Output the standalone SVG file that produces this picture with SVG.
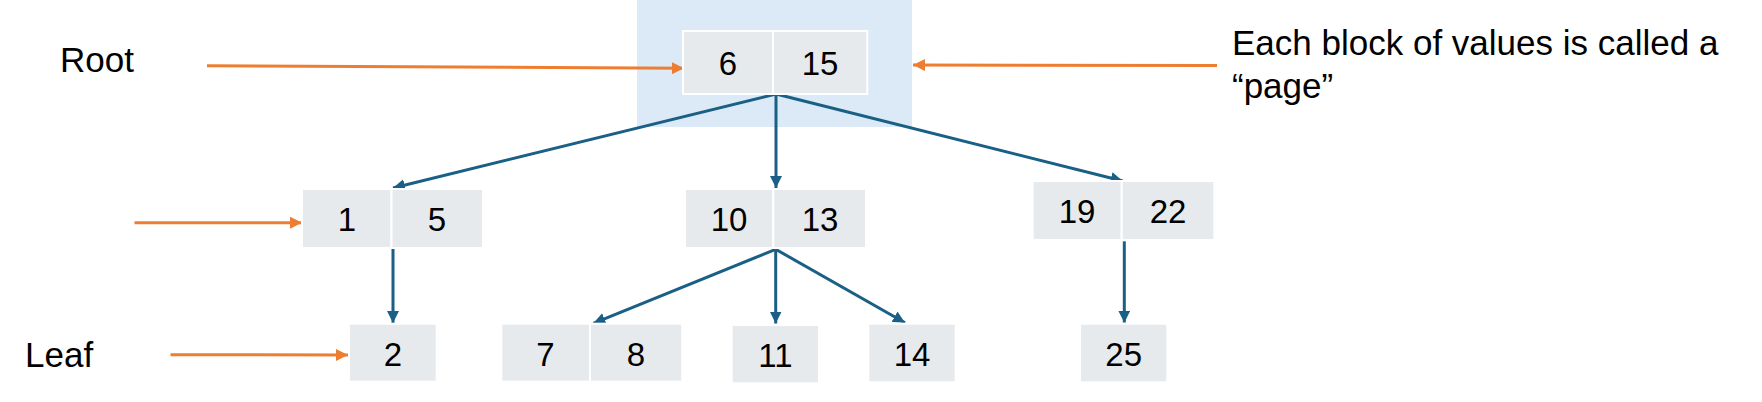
<svg xmlns="http://www.w3.org/2000/svg" width="1762" height="402" viewBox="0 0 1762 402">
  <style>
    .cell { fill: #E7EAED; stroke: #FFFFFF; stroke-width: 2; }
    .num { font-family: "Liberation Sans", Arial, sans-serif; font-size: 33px; fill: #000000; text-anchor: middle; }
    .lbl { font-family: "Liberation Sans", Arial, sans-serif; font-size: 35px; fill: #000000; }
    .blue { stroke: #1A5F86; stroke-width: 3; fill: none; }
    .orange { stroke: #ED7D31; stroke-width: 3; fill: none; }
  </style>
  <defs>
    <marker id="ab" viewBox="0 0 12 12" refX="12" refY="6" markerWidth="12" markerHeight="12" markerUnits="userSpaceOnUse" orient="auto">
      <path d="M0,0 L12,6 L0,12 z" fill="#1A5F86"/>
    </marker>
    <marker id="ao" viewBox="0 0 12 12" refX="12" refY="6" markerWidth="12" markerHeight="12" markerUnits="userSpaceOnUse" orient="auto">
      <path d="M0,0 L12,6 L0,12 z" fill="#ED7D31"/>
    </marker>
  </defs>
  <rect width="1762" height="402" fill="#FFFFFF"/>
  <rect id="page-highlight" x="637" y="0" width="275" height="127" fill="#DCE9F6"/>

  <g id="labels">
    <text class="lbl" x="60" y="72">Root</text>
    <text class="lbl" x="25" y="367">Leaf</text>
    <text class="lbl" x="1232" y="55">Each block of values is called a</text>
    <text class="lbl" x="1232" y="98">“page”</text>
  </g>

  <g id="connectors">
    <line class="orange" x1="207" y1="65.7" x2="684" y2="68.3" marker-end="url(#ao)"/>
    <line class="orange" x1="1217" y1="65.5" x2="913" y2="65" marker-end="url(#ao)"/>
    <line class="orange" x1="134.5" y1="222.7" x2="302" y2="222.7" marker-end="url(#ao)"/>
    <line class="orange" x1="170.5" y1="354.7" x2="348" y2="355" marker-end="url(#ao)"/>

    <line class="blue" x1="776" y1="94" x2="393" y2="188" marker-end="url(#ab)"/>
    <line class="blue" x1="776" y1="94" x2="776" y2="188" marker-end="url(#ab)"/>
    <line class="blue" x1="776" y1="94" x2="1122.7" y2="181" marker-end="url(#ab)"/>
    <line class="blue" x1="393" y1="249" x2="393" y2="323" marker-end="url(#ab)"/>
    <line class="blue" x1="775.7" y1="249.3" x2="593.3" y2="323.3" marker-end="url(#ab)"/>
    <line class="blue" x1="775.7" y1="249.3" x2="775.7" y2="323.5" marker-end="url(#ab)"/>
    <line class="blue" x1="775.7" y1="249.3" x2="905" y2="322.7" marker-end="url(#ab)"/>
    <line class="blue" x1="1124.3" y1="241.3" x2="1124.3" y2="322.7" marker-end="url(#ab)"/>
  </g>

  <g id="node-root">
    <rect class="cell" x="683" y="31" width="90" height="63"/>
    <rect class="cell" x="773" y="31" width="94.3" height="63"/>
    <text class="num" x="728" y="75">6</text>
    <text class="num" x="820" y="75">15</text>
  </g>

  <g id="node-1-5">
    <rect class="cell" x="302" y="189" width="89.5" height="59"/>
    <rect class="cell" x="391.5" y="189" width="91.5" height="59"/>
    <text class="num" x="347" y="231">1</text>
    <text class="num" x="437" y="231">5</text>
  </g>

  <g id="node-10-13">
    <rect class="cell" x="685" y="189" width="88.3" height="59"/>
    <rect class="cell" x="773.3" y="189" width="92.7" height="59"/>
    <text class="num" x="729" y="231">10</text>
    <text class="num" x="820" y="231">13</text>
  </g>

  <g id="node-19-22">
    <rect class="cell" x="1032.7" y="181" width="89" height="59"/>
    <rect class="cell" x="1121.7" y="181" width="92.6" height="59"/>
    <text class="num" x="1077" y="223">19</text>
    <text class="num" x="1168" y="223">22</text>
  </g>

  <g id="node-2">
    <rect class="cell" x="349" y="323.7" width="87.7" height="58"/>
    <text class="num" x="393" y="365.5">2</text>
  </g>

  <g id="node-7-8">
    <rect class="cell" x="501.3" y="323.7" width="88.7" height="58"/>
    <rect class="cell" x="590" y="323.7" width="92.3" height="58"/>
    <text class="num" x="545.5" y="365.5">7</text>
    <text class="num" x="636" y="365.5">8</text>
  </g>

  <g id="node-11">
    <rect class="cell" x="731.7" y="325" width="87.3" height="58.3"/>
    <text class="num" x="775.5" y="367">11</text>
  </g>

  <g id="node-14">
    <rect class="cell" x="868.3" y="323.7" width="87.4" height="58.6"/>
    <text class="num" x="912" y="365.5">14</text>
  </g>

  <g id="node-25">
    <rect class="cell" x="1080" y="323.7" width="87.3" height="58.6"/>
    <text class="num" x="1123.7" y="365.5">25</text>
  </g>
</svg>
